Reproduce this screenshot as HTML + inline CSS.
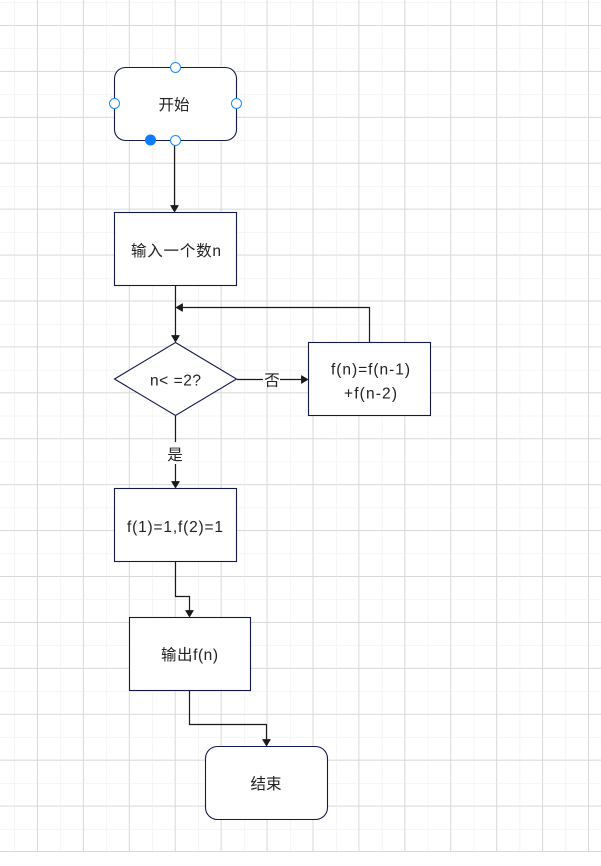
<!DOCTYPE html>
<html>
<head>
<meta charset="utf-8">
<style>
html,body{margin:0;padding:0;background:#fff;width:601px;height:866px;overflow:hidden}
svg{display:block}
text{font-family:"Liberation Sans","Noto Sans CJK SC",sans-serif;font-size:15.5px;fill:#222;text-anchor:middle}
</style>
</head>
<body>
<svg width="601" height="866" viewBox="0 0 601 866" xmlns="http://www.w3.org/2000/svg">
<defs>
<pattern id="g" x="14.5" y="2.5" width="45.92" height="45.92" patternUnits="userSpaceOnUse">
<path d="M22.96 0V45.92M0 22.96H45.92" stroke="#d8d8d8" stroke-width="1" fill="none"/>
<path d="M0 0V45.92M0 0H45.92" stroke="#ececec" stroke-width="1" fill="none"/>
</pattern>
</defs>
<rect x="0" y="0" width="601" height="852" fill="url(#g)"/>
<path d="M0 851.5H601" stroke="#d8d8d8" stroke-width="1"/>

<g fill="none" stroke="#1a1a1a" stroke-width="1.2">
<path d="M174.5 141V206"/>
<path d="M175.5 286V336"/>
<path d="M369.5 342V307.5H182"/>
<path d="M237 379.5H302"/>
<path d="M175.5 416V482"/>
<path d="M175.5 562V596.5H189.5V611"/>
<path d="M189.5 691V724.5H266.5V740"/>
</g>
<g fill="#1a1a1a" stroke="#1a1a1a" stroke-width="0.8" stroke-linejoin="round">
<path d="M170.7 205.500H178.300L174.500 211.800Z"/>
<path d="M171.700 335.500H179.300L175.500 341.800Z"/>
<path d="M182.500 303.700V311.300L176.200 307.500Z"/>
<path d="M301.500 375.700V383.300L307.800 379.500Z"/>
<path d="M171.700 481.500H179.300L175.500 487.800Z"/>
<path d="M185.700 610.500H193.300L189.500 616.800Z"/>
<path d="M262.700 739.500H270.300L266.500 745.800Z"/>
</g>

<g fill="#fff" stroke="#11194f" stroke-width="1.1">
<rect x="114.5" y="67.5" width="122" height="73" rx="11" ry="11"/>
<rect x="114.5" y="212.5" width="122" height="73"/>
<path d="M175.5 342.5L236.5 379L175.5 415.5L114.5 379Z"/>
<rect x="308.5" y="342.5" width="122" height="73"/>
<rect x="114.5" y="488.5" width="122" height="73"/>
<rect x="129.5" y="617.5" width="121" height="73"/>
<rect x="205.5" y="746.5" width="122" height="73" rx="12" ry="12"/>
</g>

<rect x="263" y="371" width="17" height="17" fill="#fff"/>
<rect x="167" y="442" width="17" height="22" fill="#fff"/>

<g fill="#fff" stroke="#1a8cff" stroke-width="1">
<circle cx="175.5" cy="67.5" r="5"/>
<circle cx="114.5" cy="103.5" r="5"/>
<circle cx="236.5" cy="103.5" r="5"/>
<circle cx="175.5" cy="140.5" r="5"/>
</g>
<circle cx="150.5" cy="140" r="5.5" fill="#0a7cff"/>

<text x="174" y="110">开始</text>
<text x="176" y="256" textLength="90" lengthAdjust="spacing">输入一个数n</text>
<text x="175.500" y="385.500" textLength="51" lengthAdjust="spacing">n&lt; =2?</text>
<text x="272" y="385.500">否</text>
<text x="370.500" y="374.500" textLength="79" lengthAdjust="spacing">f(n)=f(n-1)</text>
<text x="370.500" y="398.500" textLength="53" lengthAdjust="spacing">+f(n-2)</text>
<text x="175" y="460">是</text>
<text x="175" y="532" textLength="96" lengthAdjust="spacing">f(1)=1,f(2)=1</text>
<text x="189.500" y="660" textLength="57" lengthAdjust="spacing">输出f(n)</text>
<text x="266" y="789">结束</text>
</svg>
</body>
</html>
